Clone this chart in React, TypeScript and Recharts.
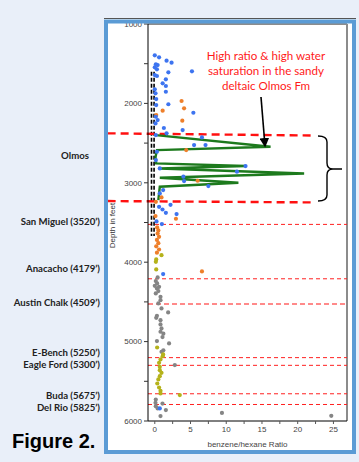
import { ScatterChart, Scatter, XAxis, YAxis, ReferenceLine } from 'recharts';

const AXIS_FONT = "'Liberation Sans', Arial, sans-serif";
const TEXT_FONT = "Lato, 'Open Sans', sans-serif";

const xTicks = [0, 2.5, 5, 7.5, 10, 12.5, 15, 17.5, 20, 22.5, 25];
const depthTicks = [1000, 1500, 2000, 2500, 3000, 3500, 4000, 4500, 5000, 5500, 6000];

// [ratio, depth ft]
const bluePoints: [number, number][] = [
  [0.0, 1395], [0.6, 1420], [1.65, 1462], [2.35, 1487], [0.15, 1508], [0.4, 1517], [0.0, 1546],
  [0.3, 1571], [1.9, 1609], [5.2, 1596], [0.0, 1643], [0.3, 1655], [1.55, 1697], [1.1, 1747],
  [1.55, 1781], [0.0, 1823], [0.1, 1873], [1.55, 1853], [0.2, 1945], [1.9, 2011], [0.2, 2021],
  [5.4, 2118], [0.15, 2168], [0.4, 2210], [0.1, 2252], [3.9, 2336], [1.27, 2310], [1.65, 2377],
  [6.6, 2428], [0.15, 2399], [5.5, 2525], [7.1, 2525], [0.3, 2609], [0.15, 2714], [0.7, 2819],
  [12.7, 2789], [11.5, 2860], [4.0, 2923], [4.1, 2978], [7.5, 3041], [1.17, 3092], [0.7, 3134],
  [0.6, 3302], [2.2, 3277], [1.08, 3336], [1.55, 3378], [3.05, 3394], [0.24, 3487], [0.99, 3520],
  [1.17, 4150], [0.7, 5842],
];

const orangePoints: [number, number][] = [
  [3.75, 1970], [4.1, 2062], [1.1, 2092], [0.2, 2147], [3.85, 2218], [4.4, 2588], [6.0, 2974],
  [0.94, 3184], [0.15, 3239], [0.1, 3419], [2.96, 3453], [0.33, 3562], [0.5, 3600], [0.4, 3640],
  [0.6, 3680], [0.3, 3720], [0.5, 3760], [0.2, 3800], [0.6, 3840], [0.3, 3880], [6.6, 4116],
];

const olivePoints: [number, number][] = [
  [0.94, 3911], [0.2, 3965], [0.15, 3995], [0.2, 4091], [0.33, 5074], [1.17, 5162], [1.1, 5183],
  [0.8, 5225], [0.6, 5267], [0.7, 5318], [0.7, 5360], [0.94, 5393], [0.7, 5435], [0.5, 5477],
  [0.35, 5528], [0.6, 5578], [0.8, 5620], [0.8, 5653], [3.5, 5674],
];

const greyPoints: [number, number][] = [
  [0.4, 4192], [0.14, 4238], [0.33, 4267], [0.0, 4297], [0.6, 4310], [0.3, 4330], [0.5, 4364],
  [0.14, 4393], [0.8, 4436], [0.8, 4478], [0.5, 4519], [0.94, 4582], [1.87, 4633], [0.3, 4675],
  [0.2, 4700], [0.8, 4730], [0.8, 4784], [0.94, 4834], [0.8, 4876], [1.2, 4900], [1.08, 4943],
  [0.3, 4994], [2.0, 5023], [1.2, 5110], [0.94, 5129], [2.8, 5296], [0.14, 5729], [0.1, 5771],
  [1.08, 5780], [0.14, 5813], [0.4, 5842], [1.55, 5863], [0.8, 5938], [9.4, 5898], [24.7, 5935],
];

const olmosTrace: [number, number][] = [
  [0.15, 2399], [16.2, 2546], [0.3, 2588], [0.1, 2680], [0.2, 2756], [12.7, 2789], [0.7, 2819],
  [20.9, 2882], [0.7, 2937], [11.7, 3000], [0.7, 3050], [0.5, 3218],
];

// formation tops drawn as thin red dashed lines
const formationTops = [3524, 4209, 5202, 5299, 5657, 5792];
const austinChalkTop = 4528;
const olmosTop: [number, number][] = [[-6.6, 2377], [22.5, 2405]];
const olmosBase: [number, number][] = [[-6.6, 3230], [22.0, 3247]];
const casingX = [-0.46, -0.1];
const casingDepths = [1600, 3671];

const formationLabels = [
  'San Miguel (3520\u2019)', 'Anacacho  (4179\u2019)', 'Austin Chalk  (4509\u2019)',
  'E-Bench  (5250\u2019)', 'Eagle Ford  (5300\u2019)', 'Buda  (5675\u2019)', 'Del Rio  (5825\u2019)',
];
const labelY = [225, 272, 306, 356, 368, 399, 411];

const toXY = (pts: [number, number][]) => pts.map(([x, d]) => ({ x, d }));

const dot = (color: string) => (p: any) => (
  <circle cx={p.cx} cy={p.cy} r={2.1} fill={color} />
);

const tickStyle = { fill: '#444', fontSize: 8, fontFamily: AXIS_FONT };

export default function App() {
  return (
    <div style={{ position: 'absolute', left: 0, top: 0, width: 359, height: 462, background: '#e9eff9', overflow: 'hidden' }}>
      <div style={{ position: 'absolute', left: 104, top: 19, width: 252, height: 435, background: '#fff' }} />
      <div style={{ position: 'absolute', left: 0, top: 0 }}>
        <ScatterChart width={359} height={462} margin={{ top: 24, right: 12, bottom: 11, left: 108 }}>
          <XAxis
            type="number"
            dataKey="x"
            domain={[-0.95, 26.9]}
            allowDataOverflow
            ticks={xTicks}
            interval={0}
            tickFormatter={(v: number) => (v % 5 === 0 ? String(v) : '')}
            tick={tickStyle}
            tickSize={3}
            axisLine={{ stroke: '#000' }}
            tickLine={{ stroke: '#555' }}
            height={30}
            label={{ value: 'benzene/hexane Ratio', position: 'insideBottom', offset: 4, style: { fontSize: 8, fill: '#444', fontFamily: AXIS_FONT } }}
          />
          <YAxis
            type="number"
            dataKey="d"
            reversed
            domain={[1000, 6000]}
            allowDataOverflow
            ticks={depthTicks}
            interval={0}
            tickFormatter={(v: number) => (v % 1000 === 0 ? String(v) : '')}
            tick={tickStyle}
            tickSize={4}
            axisLine={{ stroke: '#000' }}
            tickLine={{ stroke: '#333' }}
            width={40}
            label={{
              content: (props: any) => {
                const vb = props.viewBox;
                const cx = 113;
                const cy = vb.y + vb.height / 2 + 3;
                return (
                  <text x={cx} y={cy} transform={`rotate(-90 ${cx} ${cy})`} textAnchor="middle" dominantBaseline="middle" fontSize={8} fill="#333" fontFamily={AXIS_FONT}>
                    Depth in feet
                  </text>
                );
              },
            }}
          />
          <ReferenceLine y={1000} stroke="#8c8c8c" strokeWidth={2} />
          <ReferenceLine x={26.9} stroke="#8c8c8c" strokeWidth={2} />

          {formationTops.map((d) => (
            <ReferenceLine key={d} y={d} stroke="#ff2020" strokeWidth={1} strokeDasharray="4 3" />
          ))}
          <ReferenceLine y={austinChalkTop} stroke="#ff8a8a" strokeWidth={2} strokeDasharray="5 3" />

          {casingX.map((cx) => (
            <ReferenceLine
              key={cx}
              segment={[{ x: cx, y: casingDepths[0] }, { x: cx, y: casingDepths[1] }]}
              ifOverflow="visible"
              stroke="#000"
              strokeWidth={1.6}
              strokeDasharray="4 2"
            />
          ))}

          <Scatter
            data={toXY(olmosTrace)}
            line={{ stroke: '#1d7a1d', strokeWidth: 2.4 }}
            lineType="joint"
            shape={() => null}
            isAnimationActive={false}
          />
          <Scatter data={toXY(greyPoints)} shape={dot('#858585')} isAnimationActive={false} />
          <Scatter data={toXY(olivePoints)} shape={dot('#b5b21a')} isAnimationActive={false} />
          <Scatter data={toXY(orangePoints)} shape={dot('#ee7f2a')} isAnimationActive={false} />
          <Scatter data={toXY(bluePoints)} shape={dot('#3d74f0')} isAnimationActive={false} />

          <ReferenceLine
            segment={[{ x: olmosTop[0][0], y: olmosTop[0][1] }, { x: olmosTop[1][0], y: olmosTop[1][1] }]}
            ifOverflow="visible"
            stroke="#ff1010"
            strokeWidth={2.4}
            strokeDasharray="8 5"
          />
          <ReferenceLine
            segment={[{ x: olmosBase[0][0], y: olmosBase[0][1] }, { x: olmosBase[1][0], y: olmosBase[1][1] }]}
            ifOverflow="visible"
            stroke="#ff1010"
            strokeWidth={2.4}
            strokeDasharray="8 5"
          />
        </ScatterChart>
      </div>

      <svg width={359} height={462} style={{ position: 'absolute', left: 0, top: 0, pointerEvents: 'none' }}>
        <defs>
          <marker id="arrowHead" markerWidth="6" markerHeight="6" refX="5" refY="3" orient="auto">
            <path d="M0,0 L6,3 L0,6 Z" fill="#000" />
          </marker>
        </defs>
        <rect x={104} y={18} width={252} height={1} fill="#555" />
        <rect x={106} y={21.5} width={248} height={430.5} fill="none" stroke="#5b9bd5" strokeWidth={4} />

        <g fontFamily={TEXT_FONT} fontSize={11.6} fill="#ff1a1a" textAnchor="middle">
          <text x={266} y={60}>High ratio &amp; high water</text>
          <text x={266} y={75}>saturation in the sandy</text>
          <text x={266} y={90}>deltaic Olmos Fm</text>
        </g>
        <line x1={261} y1={97} x2={265} y2={146} stroke="#000" strokeWidth={1.6} markerEnd="url(#arrowHead)" />
        <path
          d="M318,136 Q327,136 327,142 L327,163 Q327,169 333,169 L342,169 M333,169 Q327,169 327,175 L327,195 Q327,201 318,201"
          fill="none"
          stroke="#000"
          strokeWidth={1.4}
        />

        <g fontFamily={TEXT_FONT} fontSize={9.6} fontWeight={700} fill="#222">
          <text x={75} y={159} textAnchor="middle">Olmos</text>
          {formationLabels.map((t, i) => (
            <text key={t} x={100} y={labelY[i]} textAnchor="end">{t}</text>
          ))}
        </g>
        <text x={12} y={448} fontFamily="'Liberation Sans', Arial, sans-serif" fontSize={20} fontWeight={700} fill="#000">
          Figure 2.
        </text>
      </svg>
    </div>
  );
}
